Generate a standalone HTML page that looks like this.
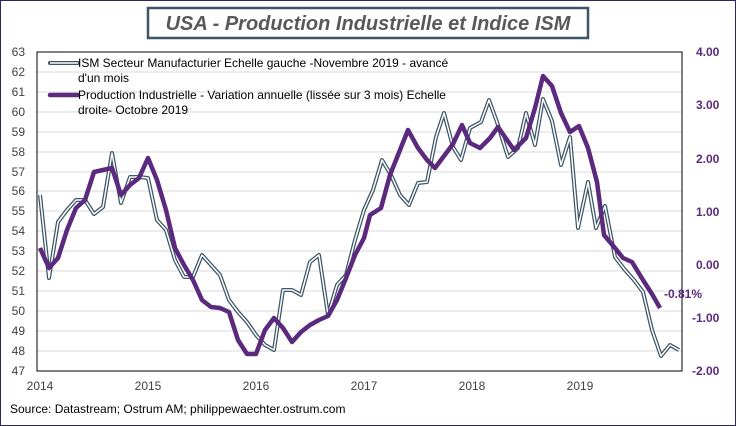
<!DOCTYPE html>
<html><head><style>
body{margin:0;background:#fff}
svg{display:block}
text{font-family:"Liberation Sans",sans-serif}
</style></head><body>
<svg width="736" height="426" viewBox="0 0 736 426">
<rect x="0.5" y="0.5" width="735" height="425" fill="#fff" stroke="#2a2a5a"/>
<rect x="148" y="8" width="440" height="30" fill="#fff" stroke="#3d5566" stroke-width="2.5"/>
<text x="368" y="30" text-anchor="middle" font-size="20" font-weight="bold" font-style="italic" fill="#595959">USA - Production Industrielle et Indice ISM</text>
<g stroke="#d9d9d9" stroke-width="1">
<line x1="37" x2="682" y1="72" y2="72"/><line x1="37" x2="682" y1="92" y2="92"/><line x1="37" x2="682" y1="112" y2="112"/><line x1="37" x2="682" y1="132" y2="132"/><line x1="37" x2="682" y1="152" y2="152"/><line x1="37" x2="682" y1="172" y2="172"/><line x1="37" x2="682" y1="191" y2="191"/><line x1="37" x2="682" y1="211" y2="211"/><line x1="37" x2="682" y1="231" y2="231"/><line x1="37" x2="682" y1="251" y2="251"/><line x1="37" x2="682" y1="271" y2="271"/><line x1="37" x2="682" y1="291" y2="291"/><line x1="37" x2="682" y1="311" y2="311"/><line x1="37" x2="682" y1="331" y2="331"/><line x1="37" x2="682" y1="351" y2="351"/>
</g>
<rect x="37" y="52" width="645" height="319" fill="none" stroke="#000" stroke-width="1"/>
<g font-size="12" fill="#404040" text-anchor="end">
<text x="25" y="56">63</text><text x="25" y="76">62</text><text x="25" y="96">61</text><text x="25" y="116">60</text><text x="25" y="136">59</text><text x="25" y="156">58</text><text x="25" y="176">57</text><text x="25" y="195">56</text><text x="25" y="215">55</text><text x="25" y="235">54</text><text x="25" y="255">53</text><text x="25" y="275">52</text><text x="25" y="295">51</text><text x="25" y="315">50</text><text x="25" y="335">49</text><text x="25" y="355">48</text><text x="25" y="375">47</text>
</g>
<g font-size="12" font-weight="bold" fill="#5b2a7e" text-anchor="start">
<text x="696" y="56">4.00</text><text x="696" y="109">3.00</text><text x="696" y="163">2.00</text><text x="696" y="216">1.00</text><text x="696" y="269">0.00</text><text x="692" y="322">-1.00</text><text x="692" y="375">-2.00</text>
</g>
<g font-size="12" fill="#404040" text-anchor="middle">
<text x="40" y="390">2014</text><text x="148" y="390">2015</text><text x="256" y="390">2016</text><text x="364" y="390">2017</text><text x="472" y="390">2018</text><text x="580" y="390">2019</text>
</g>
<text x="10" y="413" font-size="12" fill="#000">Source: Datastream; Ostrum AM; philippewaechter.ostrum.com</text>
<g fill="none" stroke-linejoin="round">
<polyline stroke="#3d5566" stroke-width="4" points="40,195 49,278 58,222 67,210 76,200 85,200 94,214 103,207 112,153 121,203 130,177 139,177 148,178 157,220 166,230 175,260 184,277 193,277 202,255 211,265 220,275 229,300 238,312 247,322 256,335 265,345 274,350 283,290 292,290 301,295 310,262 319,255 328,315 337,285 346,275 355,240 364,210 373,190 382,160 391,175 400,195 409,205 418,183 427,182 436,137 444,113 453,147 461,160 470,128 481,122 489,100 497,122 508,157 518,148 526,113 535,145 543,99 552,121 561,165 570,137 578,228 588,182 596,228 605,206 615,257 625,270 634,280 643,292 652,330 661,356 670,345 679,350"/>
<polyline stroke="#fff" stroke-width="1.5" points="40,195 49,278 58,222 67,210 76,200 85,200 94,214 103,207 112,153 121,203 130,177 139,177 148,178 157,220 166,230 175,260 184,277 193,277 202,255 211,265 220,275 229,300 238,312 247,322 256,335 265,345 274,350 283,290 292,290 301,295 310,262 319,255 328,315 337,285 346,275 355,240 364,210 373,190 382,160 391,175 400,195 409,205 418,183 427,182 436,137 444,113 453,147 461,160 470,128 481,122 489,100 497,122 508,157 518,148 526,113 535,145 543,99 552,121 561,165 570,137 578,228 588,182 596,228 605,206 615,257 625,270 634,280 643,292 652,330 661,356 670,345 679,350"/>
<polyline stroke="#5b2a7e" stroke-width="4.5" points="40,248 49,268 58,258 67,230 76,208 85,200 94,172 103,170 112,168 121,195 130,185 139,178 148,158 157,180 166,210 175,248 184,265 193,280 202,300 211,307 220,308 229,312 238,340 247,354 256,354 265,330 274,318 283,328 292,342 301,332 310,325 319,320 328,316 337,300 346,278 355,255 364,238 370,215 381,208 390,175 408,130 418,148 427,160 435,168 453,144 462,125 470,143 480,148 490,138 498,127 514,150 526,138 535,108 543,76 552,86 561,113 570,132 579,126 588,148 597,182 604,235 615,248 623,258 632,262 643,280 652,294 660,308"/>
</g>
<text x="664" y="298" font-size="12" font-weight="bold" fill="#5b2a7e">-0.81%</text>
<line x1="50" y1="63" x2="78" y2="63" stroke="#3d5566" stroke-width="4" stroke-linecap="round"/>
<line x1="50" y1="63" x2="78" y2="63" stroke="#fff" stroke-width="1.5"/>
<line x1="50" y1="95" x2="78" y2="95" stroke="#5b2a7e" stroke-width="4.5" stroke-linecap="round"/>
<g font-size="12" fill="#000">
<text x="78" y="67">ISM Secteur Manufacturier Echelle gauche -Novembre 2019 - avancé</text>
<text x="78" y="82">d'un mois</text>
<text x="78" y="99">Production Industrielle - Variation annuelle (lissée sur 3 mois) Echelle</text>
<text x="78" y="114">droite- Octobre 2019</text>
</g>
</svg>
</body></html>
